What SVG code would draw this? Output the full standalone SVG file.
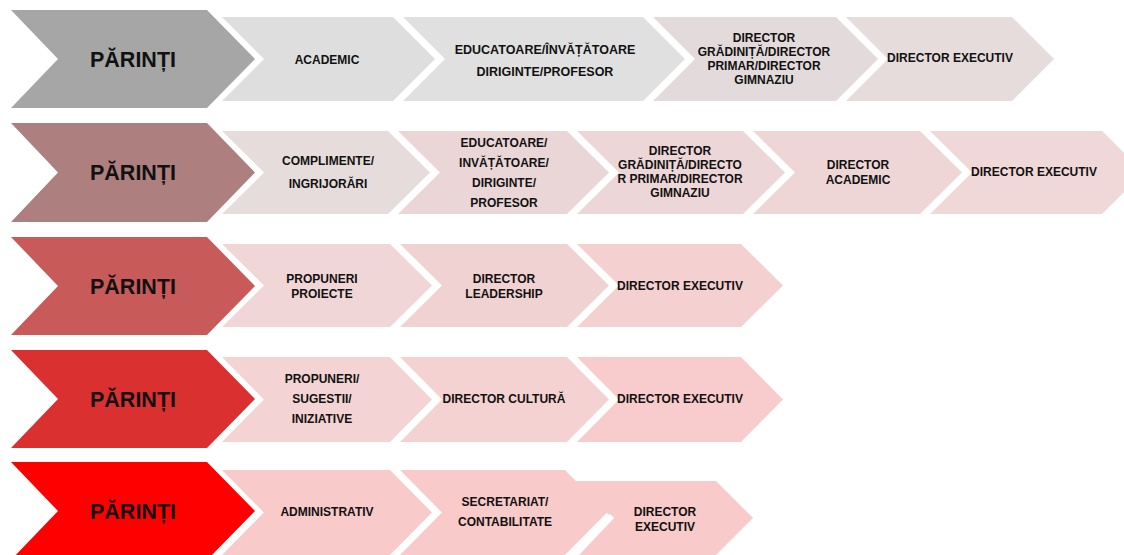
<svg xmlns="http://www.w3.org/2000/svg" width="1124" height="555" viewBox="0 0 1124 555">
<style>
text{font-family:"Liberation Sans",Arial,sans-serif;font-weight:bold;fill:#111;text-anchor:middle}
.big{font-size:21.5px}
.s{font-size:12px}
.m{font-size:12.5px}
</style>
<rect width="1124" height="555" fill="#fff"/>
<g id="row1">
<g id="r1-parinti"><polygon points="11,10 207,10 255,59 207,108 11,108 58,59" fill="#a6a6a6"/><text class="big" x="133" y="67">PĂRINȚI</text></g>
<g id="r1-c1"><polygon points="222,17 393,17 435,59 393,101 222,101 264,59" fill="#dedede"/><text class="s" x="327" y="64">ACADEMIC</text></g>
<g id="r1-c2"><polygon points="403,17 643,17 685,59 643,101 403,101 445,59" fill="#e0e0e0"/><text class="m" x="545" y="54">EDUCATOARE/ÎNVĂȚĂTOARE</text><text class="m" x="545" y="76">DIRIGINTE/PROFESOR</text></g>
<g id="r1-c3"><polygon points="653,17 836,17 878,59 836,101 653,101 695,59" fill="#e3dbdb"/><text class="s" x="764" y="42">DIRECTOR</text><text class="s" x="764" y="56">GRĂDINIȚĂ/DIRECTOR</text><text class="s" x="764" y="70">PRIMAR/DIRECTOR</text><text class="s" x="764" y="84">GIMNAZIU</text></g>
<g id="r1-c4"><polygon points="846,17 1012,17 1054,59 1012,101 846,101 888,59" fill="#e6dcdc"/><text class="s" x="950" y="62">DIRECTOR EXECUTIV</text></g>
</g>
<g id="row2">
<g id="r2-parinti"><polygon points="11,123 207,123 255,172.5 207,222 11,222 58,172.5" fill="#ad7f7f"/><text class="big" x="133" y="180">PĂRINȚI</text></g>
<g id="r2-c1"><polygon points="222,131 388,131 430,172.5 388,214 222,214 264,172.5" fill="#e6dcdc"/><text class="s" x="328" y="165">COMPLIMENTE/</text><text class="s" x="328" y="188">INGRIJORĂRI</text></g>
<g id="r2-c2"><polygon points="398,131 567,131 609,172.5 567,214 398,214 440,172.5" fill="#ead6d7"/><text class="s" x="504" y="147">EDUCATOARE/</text><text class="s" x="504" y="167">INVĂȚĂTOARE/</text><text class="s" x="504" y="187">DIRIGINTE/</text><text class="s" x="504" y="207">PROFESOR</text></g>
<g id="r2-c3"><polygon points="577,131 743,131 785,172.5 743,214 577,214 619,172.5" fill="#ecd6d7"/><text class="s" x="680" y="155">DIRECTOR</text><text class="s" x="680" y="169">GRĂDINIȚĂ/DIRECTO</text><text class="s" x="680" y="183">R PRIMAR/DIRECTOR</text><text class="s" x="680" y="197">GIMNAZIU</text></g>
<g id="r2-c4"><polygon points="753,131 920,131 962,172.5 920,214 753,214 795,172.5" fill="#eed6d7"/><text class="s" x="858" y="169">DIRECTOR</text><text class="s" x="858" y="184">ACADEMIC</text></g>
<g id="r2-c5"><polygon points="930,131 1102,131 1144,172.5 1102,214 930,214 972,172.5" fill="#f0d8d8"/><text class="s" x="1034" y="176">DIRECTOR EXECUTIV</text></g>
</g>
<g id="row3">
<g id="r3-parinti"><polygon points="11,237 207,237 255,286 207,335 11,335 58,286" fill="#c85a5a"/><text class="big" x="133" y="294">PĂRINȚI</text></g>
<g id="r3-c1"><polygon points="222,244 390,244 432,285.5 390,327 222,327 264,285.5" fill="#f0d6d6"/><text class="s" x="322" y="283">PROPUNERI</text><text class="s" x="322" y="298">PROIECTE</text></g>
<g id="r3-c2"><polygon points="400,244 567,244 609,285.5 567,327 400,327 442,285.5" fill="#f1d2d2"/><text class="s" x="504" y="283">DIRECTOR</text><text class="s" x="504" y="298">LEADERSHIP</text></g>
<g id="r3-c3"><polygon points="577,244 741,244 783,285.5 741,327 577,327 619,285.5" fill="#f4d0d0"/><text class="s" x="680" y="290">DIRECTOR EXECUTIV</text></g>
</g>
<g id="row4">
<g id="r4-parinti"><polygon points="11,350 207,350 255,399 207,448 11,448 58,399" fill="#da3030"/><text class="big" x="133" y="407">PĂRINȚI</text></g>
<g id="r4-c1"><polygon points="222,357 390,357 432,399.5 390,442 222,442 264,399.5" fill="#f3d3d3"/><text class="s" x="322" y="383">PROPUNERI/</text><text class="s" x="322" y="403">SUGESTII/</text><text class="s" x="322" y="423">INIZIATIVE</text></g>
<g id="r4-c2"><polygon points="400,357 567,357 609,399.5 567,442 400,442 442,399.5" fill="#f4d2d2"/><text class="s" x="504" y="403">DIRECTOR CULTURĂ</text></g>
<g id="r4-c3"><polygon points="577,357 741,357 783,399.5 741,442 577,442 619,399.5" fill="#f8cccc"/><text class="s" x="680" y="403">DIRECTOR EXECUTIV</text></g>
</g>
<g id="row5">
<g id="r5-parinti"><polygon points="11,462 207,462 255,511 207,560 11,560 58,511" fill="#ff0000"/><text class="big" x="133" y="519">PĂRINȚI</text></g>
<g id="r5-c1"><polygon points="222,470 390,470 432,512.5 390,555 222,555 264,512.5" fill="#f8caca"/><text class="s" x="327" y="516">ADMINISTRATIV</text></g>
<g id="r5-c2"><polygon points="400,470 565,470 607,512.5 565,555 400,555 442,512.5" fill="#f8caca"/><text class="s" x="505" y="506">SECRETARIAT/</text><text class="s" x="505" y="526">CONTABILITATE</text></g>
<g id="r5-c3"><polygon points="575,481 716,481 753,518 716,555 575,555 612,518" fill="#f8caca"/><line x1="612" y1="516" x2="574" y2="556" stroke="#fff" stroke-width="6"/><text class="s" x="665" y="516">DIRECTOR</text><text class="s" x="665" y="531">EXECUTIV</text></g>
</g>
<g id="connectors"></g>
</svg>
